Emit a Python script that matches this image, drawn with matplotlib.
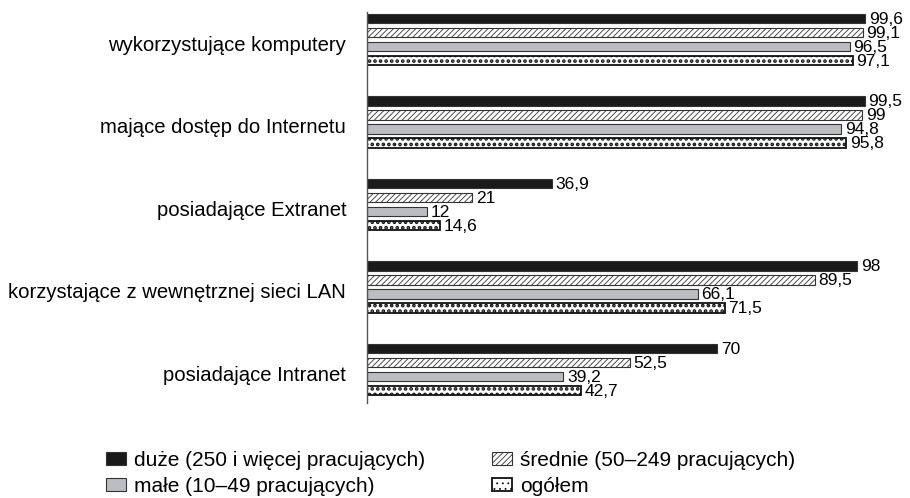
import numpy as np
import matplotlib.pyplot as plt

plt.rcParams['font.family'] = ['Liberation Sans', 'DejaVu Sans']
plt.rcParams['hatch.linewidth'] = 0.6

# data
categories = ['wykorzystujące komputery', 'mające dostęp do Internetu',
              'posiadające Extranet', 'korzystające z wewnętrznej sieci LAN',
              'posiadające Intranet']
series_names = ['duże (250 i więcej pracujących)', 'średnie (50–249 pracujących)',
                'małe (10–49 pracujących)', 'ogółem']
duze = [99.6, 99.5, 36.9, 98, 70]
srednie = [99.1, 99, 21, 89.5, 52.5]
male = [96.5, 94.8, 12, 66.1, 39.2]
ogolem = [97.1, 95.8, 14.6, 71.5, 42.7]

series = [duze, srednie, male, ogolem]
styles = [dict(color='#1a1a1a', edgecolor='#333333', linewidth=0.8),
          dict(color='white', edgecolor='#333333', hatch='//////', linewidth=0.8),
          dict(color='#bcbdc0', edgecolor='#333333', linewidth=0.8),
          dict(color='white', edgecolor='#111111', hatch='...', linewidth=1.3)]
hatch_lw = [0.6, 0.6, 0.6, 1.8]

fig = plt.figure(figsize=(9.1, 4.98), dpi=100)
ax = fig.add_axes([367 / 910, 1 - 403 / 498, 500 / 910, 391 / 498])

group_gap = 82.5
bar_gap = 14
bar_h = 9.5
first = 18.5

bars = []
for j, (vals, st) in enumerate(zip(series, styles)):
    y = first + np.arange(len(categories)) * group_gap + j * bar_gap
    b = ax.barh(y, vals, height=bar_h, label=series_names[j], **st)
    for p in b:
        if hasattr(p, 'set_hatch_linewidth'):
            p.set_hatch_linewidth(hatch_lw[j])
    bars.append(b)
    for yy, v in zip(y, vals):
        txt = ('%g' % v).replace('.', ',')
        ax.text(v + 0.8, yy + 1, txt, va='center', ha='left', fontsize=12.5)

centers = first + np.arange(len(categories)) * group_gap + 1.5 * bar_gap + 4
ax.set_yticks(centers)
ax.set_yticklabels(categories, fontsize=14.6)
ax.tick_params(axis='y', length=0, pad=15)
ax.set_ylim(403, 12)
ax.set_xlim(0, 100)
ax.set_xticks([])
for s in ['top', 'right', 'bottom']:
    ax.spines[s].set_visible(False)
ax.spines['left'].set_color('#555555')
ax.spines['left'].set_linewidth(1)

handles = [bars[0], bars[2], bars[1], bars[3]]
labels = [series_names[0], series_names[2], series_names[1], series_names[3]]
fig.legend(handles, labels, ncol=2, frameon=False, loc='upper left',
           bbox_to_anchor=(106 / 910, 1 - 451 / 498), fontsize=15,
           borderpad=0, borderaxespad=0, handlelength=0.95,
           handleheight=0.55, handletextpad=0.4, columnspacing=3.2,
           labelspacing=0.32)

fig.savefig('out.png', dpi=100)
